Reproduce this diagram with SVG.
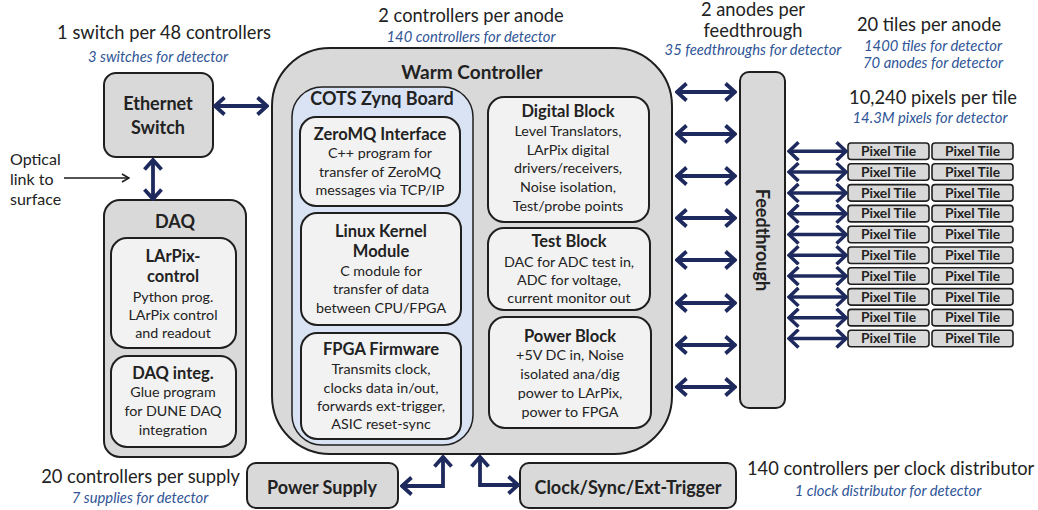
<svg xmlns="http://www.w3.org/2000/svg" width="1038" height="510" viewBox="0 0 1038 510">
<defs>
<marker id="ah" viewBox="0 0 13 20" refX="11" refY="10" markerWidth="13" markerHeight="20" markerUnits="userSpaceOnUse" orient="auto-start-reverse">
<path d="M1.5,1.5 L11,10 L1.5,18.5" fill="none" stroke="#1e2a5e" stroke-width="3.8"/>
</marker>
<marker id="ahs" viewBox="0 0 13 20" refX="11" refY="10" markerWidth="13" markerHeight="20" markerUnits="userSpaceOnUse" orient="auto-start-reverse">
<path d="M1.5,1 L11,10 L1.5,19" fill="none" stroke="#1e2a5e" stroke-width="3.5"/>
</marker>
<marker id="thin" viewBox="0 0 10 10" refX="9" refY="5" markerWidth="10" markerHeight="10" markerUnits="userSpaceOnUse" orient="auto">
<path d="M2,1 L9,5 L2,9" fill="none" stroke="#1a1a1a" stroke-width="1.5"/>
</marker>
</defs>
<style>
text{font-family:Lato,"Liberation Sans",sans-serif;fill:#222}
.big{font-size:18.3px}
.it{font-size:14.8px;font-style:italic;fill:#2f5597}
.t{font-size:16.5px;font-weight:bold;text-anchor:middle}
.tl{font-size:18px;font-weight:bold;text-anchor:middle}
.h{font-size:18px;font-weight:bold;text-anchor:middle}
.b{font-size:14.3px;text-anchor:middle}
.pt{font-size:13.8px;font-weight:bold;text-anchor:middle}
.mid{text-anchor:middle}
.gray{fill:#d9d9d9;stroke:#1f1f1f;stroke-width:2}
.inner{fill:#f2f2f2;stroke:#1f1f1f;stroke-width:2}
.blue{fill:#dae3f3;stroke:#1f1f1f;stroke-width:1.5}
.tile{fill:#d9d9d9;stroke:#1f1f1f;stroke-width:1.6}
.arr{stroke:#1e2a5e;stroke-width:3.8;fill:none;marker-start:url(#ah);marker-end:url(#ah)}
.arrs{stroke:#1e2a5e;stroke-width:3.5;fill:none;marker-start:url(#ahs);marker-end:url(#ahs)}
</style>

<g id="annotations">
<text class="big mid" x="164" y="39">1 switch per 48 controllers</text>
<text class="it mid" x="158" y="62">3 switches for detector</text>
<text class="big mid" x="471" y="22">2 controllers per anode</text>
<text class="it mid" x="471" y="42">140 controllers for detector</text>
<text class="big mid" x="753" y="16">2 anodes per</text>
<text class="big mid" x="753" y="37">feedthrough</text>
<text class="it mid" x="753" y="55">35 feedthroughs for detector</text>
<text class="big mid" x="929" y="31">20 tiles per anode</text>
<text class="it mid" x="933" y="51">1400 tiles for detector</text>
<text class="it mid" x="933" y="68">70 anodes for detector</text>
<text class="big mid" x="933" y="104">10,240 pixels per tile</text>
<text class="it mid" x="930" y="123">14.3M pixels for detector</text>
<text x="10" y="165" style="font-size:16px">Optical</text>
<text x="10" y="185" style="font-size:16px">link to</text>
<text x="10" y="205" style="font-size:16px">surface</text>
<text class="big" x="240" y="483" text-anchor="end">20 controllers per supply</text>
<text class="it mid" x="140" y="503">7 supplies for detector</text>
<text class="big" x="747" y="475">140 controllers per clock distributor</text>
<text class="it mid" x="888" y="496">1 clock distributor for detector</text>
</g>

<g id="ethernet-switch">
<rect class="gray" x="104" y="73" width="109" height="84" rx="12"/>
<text class="tl" x="158" y="110">Ethernet</text>
<text class="tl" x="158" y="134">Switch</text>
</g>

<g id="daq">
<rect class="gray" x="104" y="200" width="142" height="257" rx="16"/>
<text class="h" x="175" y="228">DAQ</text>
<g id="larpix-control">
<rect class="inner" x="111" y="238" width="125" height="110" rx="16"/>
<text class="t" x="173" y="262">LArPix-</text>
<text class="t" x="173" y="282">control</text>
<text class="b" x="173" y="302">Python prog.</text>
<text class="b" x="173" y="320">LArPix control</text>
<text class="b" x="173" y="338">and readout</text>
</g>
<g id="daq-integ">
<rect class="inner" x="111" y="356" width="125" height="91" rx="16"/>
<text class="t" x="173" y="379">DAQ integ.</text>
<text class="b" x="173" y="397">Glue program</text>
<text class="b" x="173" y="416">for DUNE DAQ</text>
<text class="b" x="173" y="435">integration</text>
</g>
</g>

<g id="warm-controller">
<rect class="gray" x="272" y="48" width="400" height="406" rx="58"/>
<text class="h" x="472" y="79" style="font-size:19px">Warm Controller</text>
<g id="cots-zynq-board">
<rect class="blue" x="292" y="87" width="181" height="358" rx="30"/>
<text class="h" x="382" y="105">COTS Zynq Board</text>
<g id="zeromq">
<rect class="inner" x="300" y="117" width="160" height="89" rx="16"/>
<text class="t" x="380" y="140">ZeroMQ Interface</text>
<text class="b" x="380" y="158">C++ program for</text>
<text class="b" x="380" y="177">transfer of ZeroMQ</text>
<text class="b" x="380" y="195">messages via TCP/IP</text>
</g>
<g id="linux-kernel">
<rect class="inner" x="301" y="213" width="160" height="112" rx="16"/>
<text class="t" x="381" y="237">Linux Kernel</text>
<text class="t" x="381" y="257">Module</text>
<text class="b" x="381" y="276">C module for</text>
<text class="b" x="381" y="294">transfer of data</text>
<text class="b" x="381" y="313">between CPU/FPGA</text>
</g>
<g id="fpga-firmware">
<rect class="inner" x="301" y="333" width="160" height="106" rx="16"/>
<text class="t" x="381" y="355">FPGA Firmware</text>
<text class="b" x="381" y="374">Transmits clock,</text>
<text class="b" x="381" y="393">clocks data in/out,</text>
<text class="b" x="381" y="411">forwards ext-trigger,</text>
<text class="b" x="381" y="429">ASIC reset-sync</text>
</g>
</g>
<g id="digital-block">
<rect class="inner" x="488" y="97" width="161" height="125" rx="16"/>
<text class="t" x="568" y="117">Digital Block</text>
<text class="b" x="568" y="136">Level Translators,</text>
<text class="b" x="568" y="155">LArPix digital</text>
<text class="b" x="568" y="173">drivers/receivers,</text>
<text class="b" x="568" y="192">Noise isolation,</text>
<text class="b" x="568" y="211">Test/probe points</text>
</g>
<g id="test-block">
<rect class="inner" x="488" y="228" width="162" height="82" rx="16"/>
<text class="t" x="569" y="247">Test Block</text>
<text class="b" x="569" y="267">DAC for ADC test in,</text>
<text class="b" x="569" y="285">ADC for voltage,</text>
<text class="b" x="569" y="303">current monitor out</text>
</g>
<g id="power-block">
<rect class="inner" x="489" y="317" width="162" height="111" rx="16"/>
<text class="t" x="570" y="342">Power Block</text>
<text class="b" x="570" y="360">+5V DC in, Noise</text>
<text class="b" x="570" y="379">isolated ana/dig</text>
<text class="b" x="570" y="398">power to LArPix,</text>
<text class="b" x="570" y="417">power to FPGA</text>
</g>
</g>

<g id="feedthrough">
<rect class="gray" x="740" y="72" width="45" height="336" rx="9"/>
<text class="tl" transform="translate(756,240) rotate(90)" x="0" y="0">Feedthrough</text>
</g>

<g id="power-supply">
<rect class="gray" x="247" y="463" width="151" height="45" rx="9"/>
<text class="tl" x="322" y="494">Power Supply</text>
</g>

<g id="clock-sync">
<rect class="gray" x="520" y="463" width="216" height="45" rx="9"/>
<text class="tl" x="628" y="494">Clock/Sync/Ext-Trigger</text>
</g>

<g id="pixel-tiles">
<rect class="tile" x="848" y="143" width="81" height="16.5" rx="3"/><text class="pt" x="888.5" y="156">Pixel Tile</text>
<rect class="tile" x="932" y="143" width="81" height="16.5" rx="3"/><text class="pt" x="972.5" y="156">Pixel Tile</text>
<rect class="tile" x="848" y="163.8" width="81" height="16.5" rx="3"/><text class="pt" x="888.5" y="176.8">Pixel Tile</text>
<rect class="tile" x="932" y="163.8" width="81" height="16.5" rx="3"/><text class="pt" x="972.5" y="176.8">Pixel Tile</text>
<rect class="tile" x="848" y="184.6" width="81" height="16.5" rx="3"/><text class="pt" x="888.5" y="197.6">Pixel Tile</text>
<rect class="tile" x="932" y="184.6" width="81" height="16.5" rx="3"/><text class="pt" x="972.5" y="197.6">Pixel Tile</text>
<rect class="tile" x="848" y="205.4" width="81" height="16.5" rx="3"/><text class="pt" x="888.5" y="218.4">Pixel Tile</text>
<rect class="tile" x="932" y="205.4" width="81" height="16.5" rx="3"/><text class="pt" x="972.5" y="218.4">Pixel Tile</text>
<rect class="tile" x="848" y="226.2" width="81" height="16.5" rx="3"/><text class="pt" x="888.5" y="239.2">Pixel Tile</text>
<rect class="tile" x="932" y="226.2" width="81" height="16.5" rx="3"/><text class="pt" x="972.5" y="239.2">Pixel Tile</text>
<rect class="tile" x="848" y="247" width="81" height="16.5" rx="3"/><text class="pt" x="888.5" y="260">Pixel Tile</text>
<rect class="tile" x="932" y="247" width="81" height="16.5" rx="3"/><text class="pt" x="972.5" y="260">Pixel Tile</text>
<rect class="tile" x="848" y="267.8" width="81" height="16.5" rx="3"/><text class="pt" x="888.5" y="280.8">Pixel Tile</text>
<rect class="tile" x="932" y="267.8" width="81" height="16.5" rx="3"/><text class="pt" x="972.5" y="280.8">Pixel Tile</text>
<rect class="tile" x="848" y="288.6" width="81" height="16.5" rx="3"/><text class="pt" x="888.5" y="301.6">Pixel Tile</text>
<rect class="tile" x="932" y="288.6" width="81" height="16.5" rx="3"/><text class="pt" x="972.5" y="301.6">Pixel Tile</text>
<rect class="tile" x="848" y="309.4" width="81" height="16.5" rx="3"/><text class="pt" x="888.5" y="322.4">Pixel Tile</text>
<rect class="tile" x="932" y="309.4" width="81" height="16.5" rx="3"/><text class="pt" x="972.5" y="322.4">Pixel Tile</text>
<rect class="tile" x="848" y="330.2" width="81" height="16.5" rx="3"/><text class="pt" x="888.5" y="343.2">Pixel Tile</text>
<rect class="tile" x="932" y="330.2" width="81" height="16.5" rx="3"/><text class="pt" x="972.5" y="343.2">Pixel Tile</text>
</g>

<g id="connectors">
<line x1="64" y1="178" x2="129" y2="178" stroke="#1a1a1a" stroke-width="1.5" marker-end="url(#thin)"/>
<line class="arr" x1="215" y1="106" x2="267" y2="106"/>
<line class="arr" x1="153" y1="160" x2="153" y2="199"/>
<line class="arr" x1="677" y1="92" x2="735" y2="92"/>
<line class="arr" x1="677" y1="134" x2="735" y2="134"/>
<line class="arr" x1="677" y1="176" x2="735" y2="176"/>
<line class="arr" x1="677" y1="218" x2="735" y2="218"/>
<line class="arr" x1="677" y1="260" x2="735" y2="260"/>
<line class="arr" x1="677" y1="303" x2="735" y2="303"/>
<line class="arr" x1="677" y1="345" x2="735" y2="345"/>
<line class="arr" x1="677" y1="387" x2="735" y2="387"/>
<line class="arrs" x1="789" y1="151.3" x2="846" y2="151.3"/>
<line class="arrs" x1="789" y1="172.1" x2="846" y2="172.1"/>
<line class="arrs" x1="789" y1="192.9" x2="846" y2="192.9"/>
<line class="arrs" x1="789" y1="213.7" x2="846" y2="213.7"/>
<line class="arrs" x1="789" y1="234.5" x2="846" y2="234.5"/>
<line class="arrs" x1="789" y1="255.3" x2="846" y2="255.3"/>
<line class="arrs" x1="789" y1="276.1" x2="846" y2="276.1"/>
<line class="arrs" x1="789" y1="296.9" x2="846" y2="296.9"/>
<line class="arrs" x1="789" y1="317.7" x2="846" y2="317.7"/>
<line class="arrs" x1="789" y1="338.5" x2="846" y2="338.5"/>
<path class="arr" d="M402,486 H443 V457"/>
<path class="arr" d="M480,457 V485 H518"/>
</g>
</svg>
